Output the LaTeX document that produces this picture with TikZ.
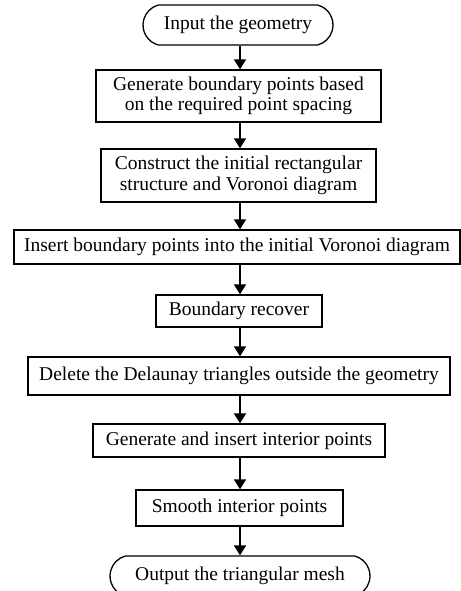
\documentclass[tikz,border=0pt]{standalone}
\usepackage{fontspec}
\setmainfont{Liberation Serif}
\usetikzlibrary{shapes.misc,arrows.meta}
\begin{document}
\begin{tikzpicture}[x=1pt,y=-1pt,
  box/.style={draw,line width=1.3pt,rectangle,inner sep=0pt,align=center,font=\fontsize{19.5}{20.5}\selectfont},
  term/.style={draw,line width=1.3pt,rounded rectangle,rounded rectangle arc length=150,inner sep=0pt,align=center,font=\fontsize{19.5}{20.5}\selectfont},
  flow/.style={line width=1.8pt,-{Triangle[width=12pt,length=10pt]}}]
\useasboundingbox (0,0) rectangle (460,591);
\node[term,minimum width=190pt,minimum height=40pt] (n1) at (238,25) {Input the geometry};
\node[box,minimum width=285pt,minimum height=52pt] (n2) at (238.5,96) {Generate boundary points based\\on the required point spacing};
\node[box,minimum width=275pt,minimum height=53pt] (n3) at (238.5,175.5) {Construct the initial rectangular\\structure and Voronoi diagram};
\node[box,minimum width=446pt,minimum height=34pt] (n4) at (237,247) {Insert boundary points into the initial Voronoi diagram};
\node[box,minimum width=166pt,minimum height=32pt] (n5) at (239,311) {Boundary recover};
\node[box,minimum width=422pt,minimum height=38pt] (n6) at (239,376) {Delete the Delaunay triangles outside the geometry};
\node[box,minimum width=292pt,minimum height=33pt] (n7) at (239,440.5) {Generate and insert interior points};
\node[box,minimum width=207pt,minimum height=36pt] (n8) at (239.5,508) {Smooth interior points};
\node[term,minimum width=260pt,minimum height=40pt] (n9) at (240,576) {Output the triangular mesh};
\foreach \a/\b in {n1/n2,n2/n3,n3/n4,n4/n5,n5/n6,n6/n7,n7/n8,n8/n9}
  \draw[flow] (\a.south -| 240,0) -- (\b.north -| 240,0);
\end{tikzpicture}
\end{document}
